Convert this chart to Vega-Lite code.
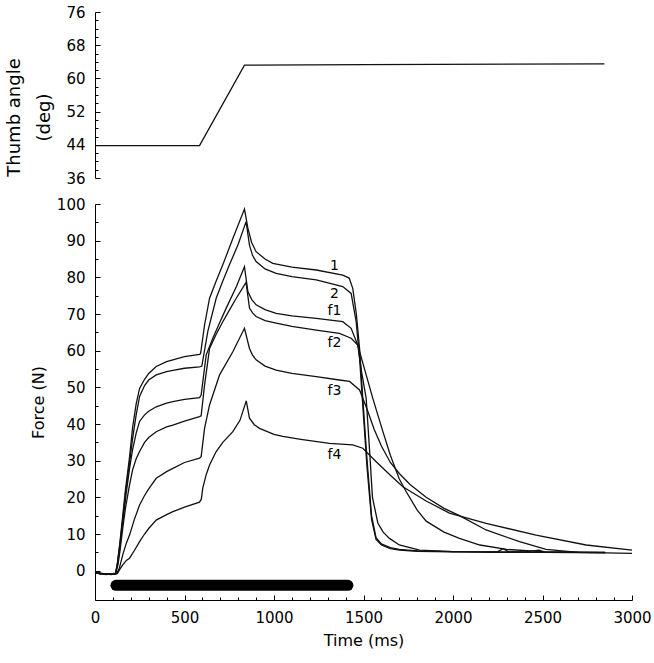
{
"$schema": "https://vega.github.io/schema/vega-lite/v6.json",
"padding": {"left": 5, "top": 5, "right": 5, "bottom": 5},
"spacing": 26,
"bounds": "flush",
"config": {
  "font": "DejaVu Sans",
  "view": {"stroke": null},
  "axis": {"domainColor": "black", "tickColor": "black", "labelColor": "black", "titleColor": "black", "labelFont": "DejaVu Sans", "titleFont": "DejaVu Sans", "labelFontSize": 15, "titleFontSize": 16, "titleFontWeight": "normal", "grid": false, "domainWidth": 1, "tickWidth": 1, "labelOverlap": false}
},
"datasets": {
  "angle": [{"t":0,"a":43.8},{"t":584,"a":43.8},{"t":835,"a":63.2},{"t":1500,"a":63.3},{"t":2846,"a":63.5}],
  "stim": [{"t":117,"F":-4},{"t":1413,"F":-4}],
  "labels": [{"lab":"1","t":1338,"F":83.2},{"lab":"2","t":1338,"F":75.4},{"lab":"f1","t":1338,"F":70.9},{"lab":"f2","t":1338,"F":62.0},{"lab":"f3","t":1338,"F":49.0},{"lab":"f4","t":1338,"F":31.5}],
  "force": [
{"s":"1","t":0,"F":-0.3},{"s":"1","t":30,"F":-0.9},{"s":"1","t":60,"F":-0.8},{"s":"1","t":90,"F":-1.0},{"s":"1","t":115,"F":-0.8},{"s":"1","t":125,"F":2},{"s":"1","t":140,"F":8},{"s":"1","t":155,"F":15},{"s":"1","t":170,"F":22},{"s":"1","t":193,"F":31},{"s":"1","t":210,"F":39},{"s":"1","t":230,"F":45.5},{"s":"1","t":249,"F":49.7},{"s":"1","t":277,"F":52.2},{"s":"1","t":300,"F":53.8},{"s":"1","t":342,"F":55.7},{"s":"1","t":400,"F":57},{"s":"1","t":435,"F":57.5},{"s":"1","t":500,"F":58.4},{"s":"1","t":584,"F":59},{"s":"1","t":590,"F":59.2},{"s":"1","t":612,"F":67},{"s":"1","t":640,"F":74.3},{"s":"1","t":677,"F":79},{"s":"1","t":714,"F":83.4},{"s":"1","t":770,"F":90.6},{"s":"1","t":835,"F":98.6},{"s":"1","t":854,"F":93.4},{"s":"1","t":875,"F":89.5},{"s":"1","t":900,"F":87},{"s":"1","t":950,"F":85},{"s":"1","t":993,"F":83.8},{"s":"1","t":1100,"F":82.8},{"s":"1","t":1236,"F":82},{"s":"1","t":1384,"F":80.6},{"s":"1","t":1420,"F":79.8},{"s":"1","t":1440,"F":77},{"s":"1","t":1460,"F":70},{"s":"1","t":1478,"F":60.6},{"s":"1","t":1496,"F":47},{"s":"1","t":1520,"F":30},{"s":"1","t":1545,"F":15},{"s":"1","t":1570,"F":9},{"s":"1","t":1600,"F":7.3},{"s":"1","t":1650,"F":6.3},{"s":"1","t":1700,"F":5.8},{"s":"1","t":1800,"F":5.4},{"s":"1","t":2000,"F":5.2},{"s":"1","t":2200,"F":5},{"s":"1","t":2500,"F":5},{"s":"1","t":2850,"F":4.9},
{"s":"2","t":0,"F":-0.5},{"s":"2","t":30,"F":-0.7},{"s":"2","t":60,"F":-1.1},{"s":"2","t":90,"F":-0.9},{"s":"2","t":115,"F":-0.7},{"s":"2","t":125,"F":1.8},{"s":"2","t":140,"F":7.5},{"s":"2","t":155,"F":14},{"s":"2","t":170,"F":21},{"s":"2","t":193,"F":29.5},{"s":"2","t":210,"F":36},{"s":"2","t":230,"F":42.5},{"s":"2","t":249,"F":47.5},{"s":"2","t":277,"F":50.5},{"s":"2","t":300,"F":52},{"s":"2","t":342,"F":53.4},{"s":"2","t":400,"F":54.3},{"s":"2","t":435,"F":54.6},{"s":"2","t":500,"F":55.2},{"s":"2","t":584,"F":55.6},{"s":"2","t":597,"F":55.8},{"s":"2","t":630,"F":65.2},{"s":"2","t":677,"F":74.3},{"s":"2","t":714,"F":79},{"s":"2","t":751,"F":83.4},{"s":"2","t":800,"F":89},{"s":"2","t":844,"F":95.2},{"s":"2","t":863,"F":88.8},{"s":"2","t":880,"F":86},{"s":"2","t":900,"F":84.3},{"s":"2","t":950,"F":82.3},{"s":"2","t":1012,"F":81.1},{"s":"2","t":1100,"F":80.2},{"s":"2","t":1236,"F":79.3},{"s":"2","t":1384,"F":77.5},{"s":"2","t":1431,"F":75.6},{"s":"2","t":1459,"F":67.9},{"s":"2","t":1478,"F":58},{"s":"2","t":1496,"F":45},{"s":"2","t":1520,"F":28},{"s":"2","t":1545,"F":14},{"s":"2","t":1570,"F":8.5},{"s":"2","t":1600,"F":7},{"s":"2","t":1650,"F":6},{"s":"2","t":1700,"F":5.6},{"s":"2","t":1800,"F":5.3},{"s":"2","t":2000,"F":5.1},{"s":"2","t":2250,"F":5.2},{"s":"2","t":2280,"F":6},{"s":"2","t":2310,"F":5.2},{"s":"2","t":2500,"F":5},{"s":"2","t":2850,"F":5},
{"s":"f1","t":0,"F":-0.4},{"s":"f1","t":30,"F":-0.8},{"s":"f1","t":60,"F":-0.9},{"s":"f1","t":90,"F":-1.1},{"s":"f1","t":115,"F":-0.8},{"s":"f1","t":125,"F":1.5},{"s":"f1","t":140,"F":7},{"s":"f1","t":155,"F":13},{"s":"f1","t":170,"F":19.5},{"s":"f1","t":193,"F":27.9},{"s":"f1","t":210,"F":33},{"s":"f1","t":230,"F":37.5},{"s":"f1","t":249,"F":40.7},{"s":"f1","t":277,"F":42.5},{"s":"f1","t":300,"F":43.5},{"s":"f1","t":342,"F":44.7},{"s":"f1","t":400,"F":45.7},{"s":"f1","t":435,"F":46.1},{"s":"f1","t":500,"F":46.7},{"s":"f1","t":584,"F":47.2},{"s":"f1","t":593,"F":47.9},{"s":"f1","t":621,"F":58.8},{"s":"f1","t":658,"F":63.4},{"s":"f1","t":700,"F":68},{"s":"f1","t":733,"F":71.6},{"s":"f1","t":790,"F":77.5},{"s":"f1","t":835,"F":82.9},{"s":"f1","t":854,"F":76.1},{"s":"f1","t":875,"F":74},{"s":"f1","t":900,"F":72.5},{"s":"f1","t":950,"F":71.2},{"s":"f1","t":1012,"F":70.2},{"s":"f1","t":1100,"F":69.5},{"s":"f1","t":1236,"F":68.8},{"s":"f1","t":1384,"F":67.9},{"s":"f1","t":1431,"F":66.1},{"s":"f1","t":1468,"F":61.5},{"s":"f1","t":1490,"F":54},{"s":"f1","t":1515,"F":47},{"s":"f1","t":1535,"F":32},{"s":"f1","t":1550,"F":20},{"s":"f1","t":1580,"F":13},{"s":"f1","t":1610,"F":10.5},{"s":"f1","t":1645,"F":8.8},{"s":"f1","t":1700,"F":7},{"s":"f1","t":1813,"F":5.6},{"s":"f1","t":2000,"F":5.2},{"s":"f1","t":2400,"F":5.1},{"s":"f1","t":2480,"F":5.6},{"s":"f1","t":2520,"F":5},{"s":"f1","t":2850,"F":4.9},
{"s":"f2","t":0,"F":-0.6},{"s":"f2","t":30,"F":-0.9},{"s":"f2","t":60,"F":-0.8},{"s":"f2","t":90,"F":-1.0},{"s":"f2","t":115,"F":-0.8},{"s":"f2","t":128,"F":1.5},{"s":"f2","t":140,"F":5.5},{"s":"f2","t":155,"F":11.6},{"s":"f2","t":170,"F":17},{"s":"f2","t":193,"F":23.4},{"s":"f2","t":210,"F":27.5},{"s":"f2","t":230,"F":30.5},{"s":"f2","t":249,"F":32.5},{"s":"f2","t":277,"F":35},{"s":"f2","t":300,"F":36.3},{"s":"f2","t":342,"F":37.9},{"s":"f2","t":400,"F":39.2},{"s":"f2","t":435,"F":39.7},{"s":"f2","t":500,"F":40.8},{"s":"f2","t":584,"F":42},{"s":"f2","t":593,"F":42.2},{"s":"f2","t":612,"F":50.6},{"s":"f2","t":640,"F":60.6},{"s":"f2","t":677,"F":64.5},{"s":"f2","t":714,"F":67.9},{"s":"f2","t":750,"F":71},{"s":"f2","t":789,"F":74.3},{"s":"f2","t":844,"F":78.6},{"s":"f2","t":863,"F":71.6},{"s":"f2","t":880,"F":70.3},{"s":"f2","t":900,"F":69.3},{"s":"f2","t":950,"F":68.2},{"s":"f2","t":1012,"F":67.5},{"s":"f2","t":1100,"F":66.6},{"s":"f2","t":1236,"F":65.6},{"s":"f2","t":1365,"F":64.7},{"s":"f2","t":1431,"F":63.4},{"s":"f2","t":1468,"F":61.5},{"s":"f2","t":1500,"F":56},{"s":"f2","t":1552,"F":47},{"s":"f2","t":1608,"F":38},{"s":"f2","t":1650,"F":31.5},{"s":"f2","t":1700,"F":25},{"s":"f2","t":1738,"F":21.6},{"s":"f2","t":1800,"F":16.5},{"s":"f2","t":1850,"F":13.5},{"s":"f2","t":1950,"F":10.5},{"s":"f2","t":2036,"F":8.8},{"s":"f2","t":2150,"F":7},{"s":"f2","t":2300,"F":5.8},{"s":"f2","t":2500,"F":5.2},{"s":"f2","t":2850,"F":5},
{"s":"f3","t":0,"F":-0.5},{"s":"f3","t":30,"F":-0.8},{"s":"f3","t":60,"F":-1},{"s":"f3","t":90,"F":-0.9},{"s":"f3","t":120,"F":-0.8},{"s":"f3","t":135,"F":0.5},{"s":"f3","t":155,"F":4.3},{"s":"f3","t":175,"F":7.5},{"s":"f3","t":193,"F":9.7},{"s":"f3","t":220,"F":14},{"s":"f3","t":249,"F":17.9},{"s":"f3","t":277,"F":20.5},{"s":"f3","t":300,"F":22.3},{"s":"f3","t":342,"F":25.2},{"s":"f3","t":400,"F":27},{"s":"f3","t":435,"F":27.9},{"s":"f3","t":500,"F":29.5},{"s":"f3","t":584,"F":30.7},{"s":"f3","t":593,"F":31.1},{"s":"f3","t":612,"F":38.8},{"s":"f3","t":640,"F":45.2},{"s":"f3","t":696,"F":53.4},{"s":"f3","t":770,"F":59.7},{"s":"f3","t":835,"F":66.1},{"s":"f3","t":863,"F":60.6},{"s":"f3","t":880,"F":58.8},{"s":"f3","t":900,"F":57.5},{"s":"f3","t":950,"F":55.8},{"s":"f3","t":1012,"F":54.7},{"s":"f3","t":1100,"F":53.8},{"s":"f3","t":1236,"F":52.9},{"s":"f3","t":1365,"F":52},{"s":"f3","t":1422,"F":51.6},{"s":"f3","t":1478,"F":49.3},{"s":"f3","t":1520,"F":44},{"s":"f3","t":1560,"F":38.5},{"s":"f3","t":1600,"F":34},{"s":"f3","t":1650,"F":29.5},{"s":"f3","t":1700,"F":26.5},{"s":"f3","t":1760,"F":23.5},{"s":"f3","t":1850,"F":20},{"s":"f3","t":1950,"F":17},{"s":"f3","t":2036,"F":15},{"s":"f3","t":2185,"F":11.1},{"s":"f3","t":2372,"F":7.9},{"s":"f3","t":2520,"F":5.8},{"s":"f3","t":2700,"F":5},{"s":"f3","t":3000,"F":4.7},
{"s":"f4","t":0,"F":-0.4},{"s":"f4","t":30,"F":-0.7},{"s":"f4","t":60,"F":-0.9},{"s":"f4","t":90,"F":-1},{"s":"f4","t":125,"F":-0.8},{"s":"f4","t":140,"F":0.5},{"s":"f4","t":155,"F":1.6},{"s":"f4","t":175,"F":2.8},{"s":"f4","t":193,"F":3.4},{"s":"f4","t":220,"F":5.5},{"s":"f4","t":249,"F":7.9},{"s":"f4","t":277,"F":10},{"s":"f4","t":300,"F":11.5},{"s":"f4","t":342,"F":13.8},{"s":"f4","t":400,"F":15.3},{"s":"f4","t":435,"F":16.1},{"s":"f4","t":500,"F":17.3},{"s":"f4","t":584,"F":18.7},{"s":"f4","t":594,"F":19.5},{"s":"f4","t":602,"F":22.5},{"s":"f4","t":620,"F":26},{"s":"f4","t":640,"F":28.8},{"s":"f4","t":677,"F":32.5},{"s":"f4","t":714,"F":35},{"s":"f4","t":770,"F":37.9},{"s":"f4","t":810,"F":41},{"s":"f4","t":845,"F":46.3},{"s":"f4","t":863,"F":41.6},{"s":"f4","t":890,"F":39.8},{"s":"f4","t":919,"F":38.8},{"s":"f4","t":1000,"F":37.2},{"s":"f4","t":1049,"F":36.6},{"s":"f4","t":1150,"F":35.8},{"s":"f4","t":1310,"F":34.7},{"s":"f4","t":1440,"F":34.3},{"s":"f4","t":1496,"F":33.4},{"s":"f4","t":1571,"F":29.7},{"s":"f4","t":1650,"F":26},{"s":"f4","t":1720,"F":22.9},{"s":"f4","t":1850,"F":19},{"s":"f4","t":1980,"F":15.7},{"s":"f4","t":2185,"F":12.9},{"s":"f4","t":2464,"F":9.7},{"s":"f4","t":2744,"F":7},{"s":"f4","t":3000,"F":5.6}
  ]
},
"vconcat": [
  {
    "width": 537, "height": 166,
    "data": {"name": "angle"},
    "mark": {"type": "line", "color": "#111", "strokeWidth": 1.3},
    "encoding": {
      "x": {"field": "t", "type": "quantitative", "scale": {"domain": [0, 3000], "nice": false}, "axis": null},
      "y": {"field": "a", "type": "quantitative", "scale": {"domain": [36, 76], "nice": false, "zero": false},
        "axis": {"values": [36,38,40,42,44,46,48,50,52,54,56,58,60,62,64,66,68,70,72,74,76],
          "labelExpr": "datum.value % 8 === 4 ? datum.label : ''",
          "tickSize": {"condition": {"test": "datum.value % 8 === 4", "value": -5}, "value": -3},
          "labelPadding": 15,
          "title": ["Thumb angle", "(deg)"], "titleFontSize": 18, "titleLineHeight": 30, "titlePadding": 12, "titleY": 105}}
    }
  },
  {
    "width": 537, "height": 396,
    "encoding": {
      "x": {"field": "t", "type": "quantitative", "scale": {"domain": [0, 3000], "nice": false},
        "axis": {"values": [0,100,200,300,400,500,600,700,800,900,1000,1100,1200,1300,1400,1500,1600,1700,1800,1900,2000,2100,2200,2300,2400,2500,2600,2700,2800,2900,3000],
          "format": "d",
          "labelExpr": "datum.value % 500 === 0 ? datum.label : ''",
          "tickSize": {"condition": {"test": "datum.value % 500 === 0", "value": -5}, "value": -3},
          "labelPadding": 15, "labelFlush": false, "labelOverlap": false,
          "title": "Time (ms)", "titlePadding": 5}},
      "y": {"field": "F", "type": "quantitative", "scale": {"domain": [-8, 100], "nice": false, "zero": false},
        "axis": {"values": [0,5,10,15,20,25,30,35,40,45,50,55,60,65,70,75,80,85,90,95,100],
          "labelExpr": "datum.value % 10 === 0 ? datum.label : ''",
          "tickSize": {"condition": {"test": "datum.value % 10 === 0", "value": -5}, "value": -3},
          "labelPadding": 15, "labelOverlap": false,
          "title": "Force (N)", "titlePadding": 10}}
    },
    "layer": [
      {
        "data": {"name": "force"},
        "mark": {"type": "line", "color": "#111", "strokeWidth": 1.3},
        "encoding": {"detail": {"field": "s", "type": "nominal"}}
      },
      {
        "data": {"name": "stim"},
        "mark": {"type": "line", "color": "black", "strokeWidth": 11, "strokeCap": "round"},
        "encoding": {}
      },
      {
        "data": {"name": "labels"},
        "mark": {"type": "text", "fontSize": 14, "color": "black", "align": "center", "baseline": "middle"},
        "encoding": {"text": {"field": "lab"}}
      }
    ]
  }
]
}
